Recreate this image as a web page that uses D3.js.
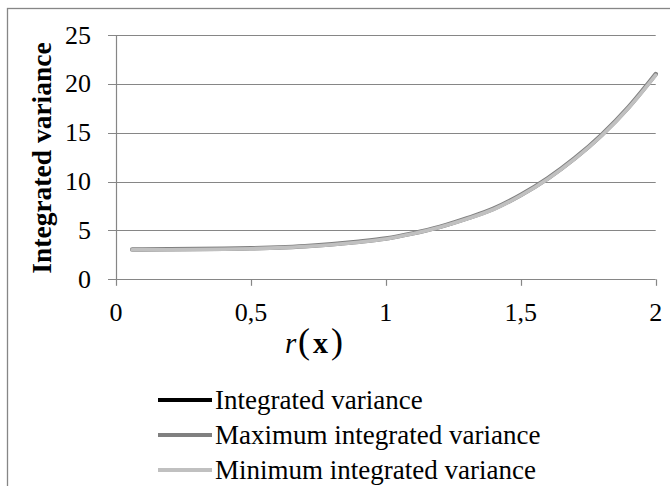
<!DOCTYPE html>
<html>
<head>
<meta charset="utf-8">
<script src="https://cdn.jsdelivr.net/npm/d3@7"></script>
<style>
  html, body { margin: 0; padding: 0; background: #fff; }
  svg { display: block; }
  text { font-family: "Liberation Serif", "Times New Roman", serif; fill: #000; }
</style>
</head>
<body>
<svg id="chart" width="670" height="486"></svg>
<script>
// ---- data ----
const rValues = [0.06, 0.1, 0.2, 0.3, 0.4, 0.5, 0.6, 0.7, 0.8, 0.9, 1.0, 1.1, 1.2, 1.3, 1.4, 1.5, 1.6, 1.7, 1.8, 1.9, 2.0];
const integratedVariance = [3.04, 3.04, 3.05, 3.07, 3.10, 3.15, 3.24, 3.37, 3.56, 3.82, 4.15, 4.68, 5.35, 6.20, 7.20, 8.60, 10.30, 12.35, 14.75, 17.60, 20.95];
const maxIntegratedVariance = [3.06, 3.06, 3.07, 3.09, 3.12, 3.17, 3.26, 3.39, 3.58, 3.84, 4.17, 4.70, 5.37, 6.23, 7.23, 8.63, 10.33, 12.38, 14.79, 17.64, 21.00];
const minIntegratedVariance = [3.02, 3.02, 3.03, 3.05, 3.08, 3.13, 3.22, 3.35, 3.54, 3.80, 4.13, 4.66, 5.33, 6.17, 7.17, 8.57, 10.27, 12.32, 14.71, 17.56, 20.90];
const yTickValues = [0, 5, 10, 15, 20, 25];
const yTickLabels = ["0", "5", "10", "15", "20", "25"];
const xTickValues = [0, 0.5, 1, 1.5, 2];
const xTickLabels = ["0", "0,5", "1", "1,5", "2"];
const seriesNames = ["Integrated variance", "Maximum integrated variance", "Minimum integrated variance"];

// ---- layout ----
const svg = d3.select("#chart");
const x = d3.scaleLinear().domain([0, 2]).range([116, 655.7]);
const y = d3.scaleLinear().domain([0, 25]).range([279.3, 35]);
const gridColor = "#868686";

// outer chart border (extends beyond the frame on right/bottom)
svg.append("rect")
  .attr("x", 7.5).attr("y", 8.5).attr("width", 700).attr("height", 600)
  .attr("fill", "none").attr("stroke", gridColor).attr("stroke-width", 1.3);

// gridlines + outside tick marks
svg.append("g").selectAll("line").data(yTickValues).join("line")
  .attr("x1", 108).attr("x2", x(2))
  .attr("y1", d => Math.round(y(d)) + 0.5).attr("y2", d => Math.round(y(d)) + 0.5)
  .attr("stroke", gridColor).attr("stroke-width", 1.2);

// y axis line
svg.append("line")
  .attr("x1", Math.round(x(0)) + 0.5).attr("x2", Math.round(x(0)) + 0.5)
  .attr("y1", y(25)).attr("y2", y(0))
  .attr("stroke", gridColor).attr("stroke-width", 1.2);

// x tick marks
svg.append("g").selectAll("line").data(xTickValues).join("line")
  .attr("x1", d => Math.round(x(d)) + 0.5).attr("x2", d => Math.round(x(d)) + 0.5)
  .attr("y1", y(0)).attr("y2", y(0) + 6.5)
  .attr("stroke", gridColor).attr("stroke-width", 1.2);

// y tick labels
svg.append("g").selectAll("text").data(yTickValues).join("text")
  .attr("x", 91).attr("y", d => y(d))
  .attr("dy", "0.33em")
  .attr("text-anchor", "end")
  .style("font-size", "26px")
  .text((d, i) => yTickLabels[i]);

// x tick labels
svg.append("g").selectAll("text").data(xTickValues).join("text")
  .attr("x", d => x(d)).attr("y", 321)
  .attr("text-anchor", "middle")
  .style("font-size", "26px")
  .text((d, i) => xTickLabels[i]);

// y axis title
svg.append("text")
  .attr("transform", "translate(51,158) rotate(-90)")
  .attr("text-anchor", "middle")
  .style("font-size", "27.5px").style("font-weight", "bold")
  .text("Integrated variance");

// x axis title r(x)
const xt = svg.append("text").attr("y", 353);
xt.append("tspan").attr("x", 285).style("font-size", "29px").style("font-style", "italic").text("r");
xt.append("tspan").attr("x", 298).style("font-size", "36px").text("(");
xt.append("tspan").attr("x", 313).style("font-size", "30px").style("font-weight", "bold").text("x");
xt.append("tspan").attr("x", 331).style("font-size", "36px").text(")");

// lines
const line = d3.line().x((d, i) => x(rValues[i])).y(d => y(d)).curve(d3.curveMonotoneX);
const series = [
  { name: seriesNames[0], values: integratedVariance, color: "#000000", width: 3 },
  { name: seriesNames[1], values: maxIntegratedVariance, color: "#808080", width: 4.5 },
  { name: seriesNames[2], values: minIntegratedVariance, color: "#c0c0c0", width: 3.6 }
];
svg.append("g").selectAll("path").data(series).join("path")
  .attr("d", d => line(d.values))
  .attr("fill", "none")
  .attr("stroke", d => d.color)
  .attr("stroke-width", d => d.width)
  .attr("stroke-linecap", "round")
  .attr("stroke-linejoin", "round");

// legend
const legendRows = [400, 435, 470];
const lg = svg.append("g").selectAll("g").data(series).join("g")
  .attr("transform", (d, i) => `translate(0,${legendRows[i]})`);
lg.append("line")
  .attr("x1", 158).attr("x2", 212).attr("y1", 0).attr("y2", 0)
  .attr("stroke", d => d.color).attr("stroke-width", 4);
lg.append("text")
  .attr("x", 215).attr("y", 9)
  .style("font-size", "27px")
  .text(d => d.name);
</script>
</body>
</html>
